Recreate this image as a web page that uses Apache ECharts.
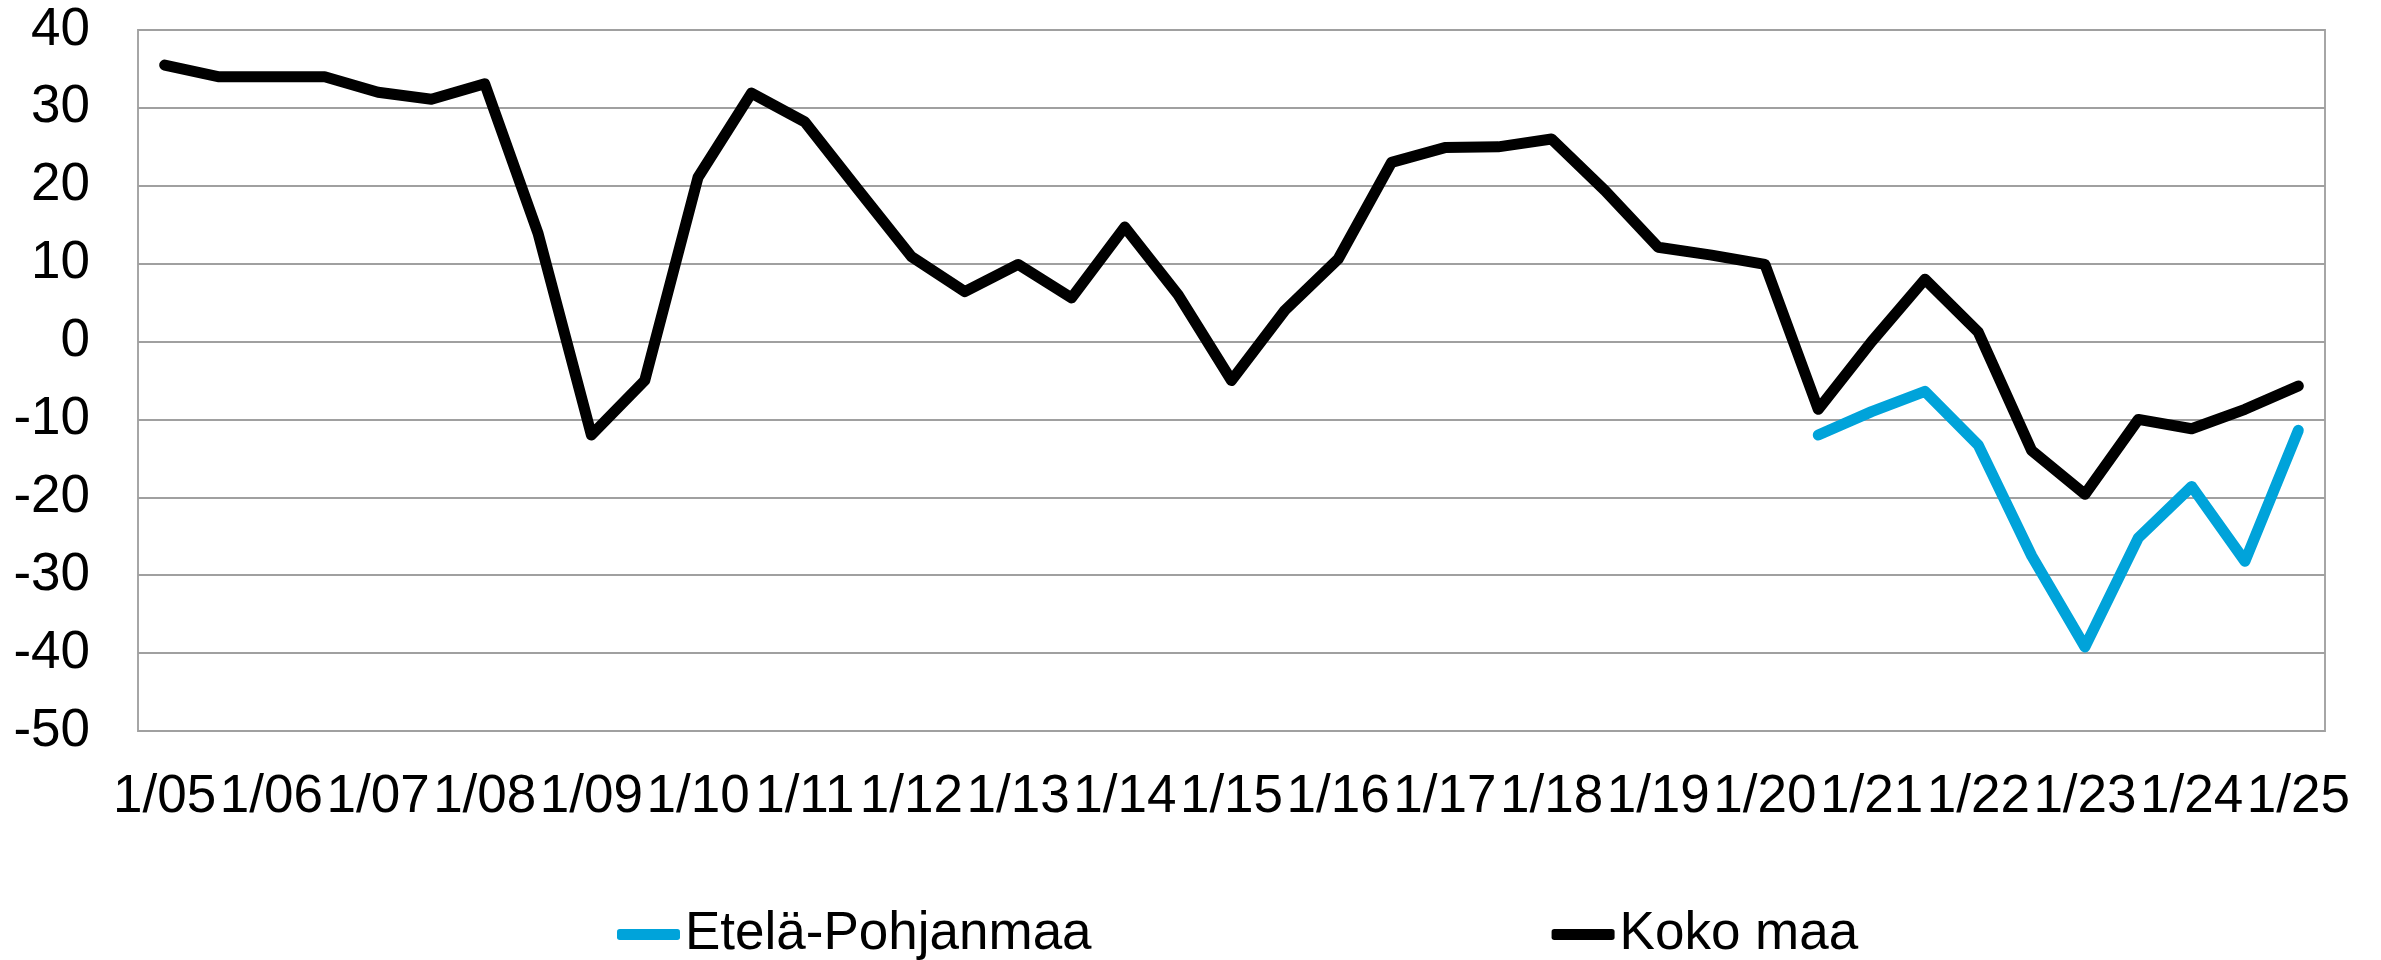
<!DOCTYPE html>
<html>
<head>
<meta charset="utf-8">
<script src="https://cdn.jsdelivr.net/npm/echarts@6/dist/echarts.min.js"></script>
<style>
  html, body { margin: 0; padding: 0; background: #fff; }
  #chart { width: 2381px; height: 960px; }
</style>
</head>
<body>
<div id="chart"></div>
<script>
// half-year points, labels shown on every January
const periods = [
  "1/05", "7/05", "1/06", "7/06", "1/07", "7/07", "1/08", "7/08", "1/09", "7/09",
  "1/10", "7/10", "1/11", "7/11", "1/12", "7/12", "1/13", "7/13", "1/14", "7/14",
  "1/15", "7/15", "1/16", "7/16", "1/17", "7/17", "1/18", "7/18", "1/19", "7/19",
  "1/20", "7/20", "1/21", "7/21", "1/22", "7/22", "1/23", "7/23", "1/24", "7/24", "1/25"
];

const kokoMaa = [
  35.5, 34, 34, 34, 32, 31.1, 33.1, 13.9, -12, -5,
  21.1, 31.9, 28.2, 19.5, 10.9, 6.4, 9.9, 5.6, 14.7, 6,
  -5, 4, 10.6, 23, 24.9, 25, 26, 19.4, 12.1, 11.1,
  9.9, -8.7, 0, 8, 1.2, -14, -19.6, -10, -11.2, -8.7, -5.7
];

const etelaPohjanmaa = [
  null, null, null, null, null, null, null, null, null, null,
  null, null, null, null, null, null, null, null, null, null,
  null, null, null, null, null, null, null, null, null, null,
  null, -12, -9, -6.4, -13.3, -27.5, -39.2, -25.2, -18.6, -28.2, -11.4
];

const yTicks = { min: -50, max: 40, step: 10 };

const chart = echarts.init(document.getElementById("chart"));

const font = "'Liberation Sans', Arial, sans-serif";

chart.setOption({
  animation: false,
  grid: {
    left: 138, right: 56, top: 30, bottom: 229,
    show: true,
    borderColor: "#a6a6a6",
    borderWidth: 2
  },
  legend: {
    left: 612,
    top: 903,
    itemWidth: 63,
    itemHeight: 11,
    itemGap: 460,
    icon: "roundRect",
    textStyle: { fontFamily: font, fontSize: 53, color: "#000" },
    data: ["Etelä-Pohjanmaa", "Koko maa"]
  },
  xAxis: {
    type: "category",
    data: periods,
    boundaryGap: true,
    axisLine: { show: false },
    axisTick: { show: false },
    axisLabel: {
      interval: 1,
      margin: 40,
      fontFamily: font,
      fontSize: 53,
      color: "#000"
    }
  },
  yAxis: {
    type: "value",
    min: yTicks.min,
    max: yTicks.max,
    interval: yTicks.step,
    axisLine: { show: false },
    axisTick: { show: false },
    splitLine: { lineStyle: { color: "#a0a0a0", width: 2 } },
    axisLabel: {
      margin: 48,
      fontFamily: font,
      fontSize: 53,
      color: "#000"
    }
  },
  series: [
    {
      name: "Etelä-Pohjanmaa",
      type: "line",
      data: etelaPohjanmaa,
      showSymbol: false,
      symbol: "none",
      itemStyle: { color: "#00a3da" },
      lineStyle: { width: 11, color: "#00a3da", cap: "round", join: "round" }
    },
    {
      name: "Koko maa",
      type: "line",
      data: kokoMaa,
      showSymbol: false,
      symbol: "none",
      itemStyle: { color: "#000" },
      lineStyle: { width: 11, color: "#000", cap: "round", join: "round" }
    }
  ]
});
</script>
</body>
</html>
